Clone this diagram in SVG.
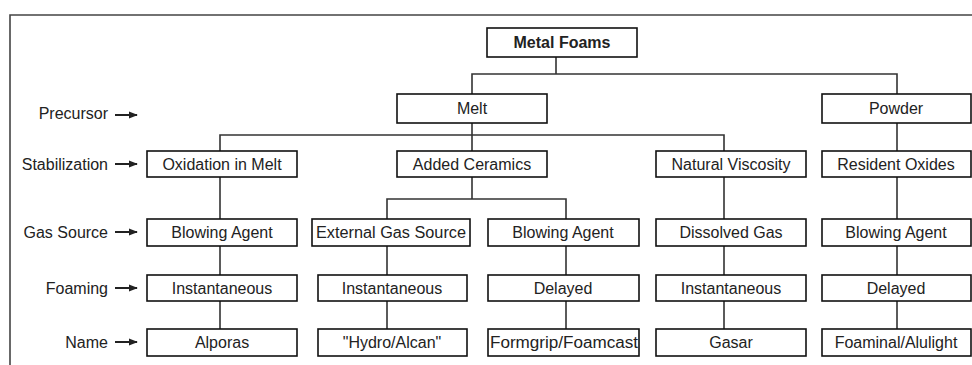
<svg xmlns="http://www.w3.org/2000/svg" width="972" height="365" viewBox="0 0 972 365">
<defs>
<marker id="ah" viewBox="0 0 10 10" refX="9" refY="5" markerWidth="4.5" markerHeight="4.5" orient="auto" markerUnits="strokeWidth">
<path d="M0,1 L10,5 L0,9 Z" fill="#222"/>
</marker>
<style>
.box{fill:#fff;stroke:#111;stroke-width:1.6}
.t{font-family:"Liberation Sans",Arial,sans-serif;font-size:16px;fill:#222;text-anchor:middle}
.b{font-weight:bold}
.lab{font-family:"Liberation Sans",Arial,sans-serif;font-size:16px;fill:#222;text-anchor:end}
.c{fill:none;stroke:#333;stroke-width:1.6}
.ar{stroke:#222;stroke-width:2;marker-end:url(#ah)}
.fr{fill:none;stroke:#444;stroke-width:1.6}
</style>
</defs>
<rect width="972" height="365" fill="#fff"/>
<path class="fr" d="M10,365 V15 H972"/>
<g id="connectors">
<path class="c" d="M556,57 V74 M472,94 V74 H897 V94"/>
<path class="c" d="M472,123 V135 M220,151 V135 H724 V151 M472,135 V151"/>
<path class="c" d="M897,123 V151"/>
<path class="c" d="M472,177 V199 M387,219 V199 H566 V219"/>
<path class="c" d="M220,177 V219 M724,177 V219 M897,177 V219"/>
<path class="c" d="M220,246 V275 M387,246 V275 M566,246 V275 M724,246 V275 M897,246 V275"/>
<path class="c" d="M220,301 V329 M387,301 V329 M566,301 V329 M724,301 V329 M897,301 V329"/>
</g>
<g id="labels">
<text class="lab" x="108" y="119">Precursor</text>
<line class="ar" x1="115" y1="115" x2="137" y2="115"/>
<text class="lab" x="108" y="170">Stabilization</text>
<line class="ar" x1="115" y1="164" x2="137" y2="164"/>
<text class="lab" x="108" y="238">Gas Source</text>
<line class="ar" x1="115" y1="232" x2="137" y2="232"/>
<text class="lab" x="108" y="294">Foaming</text>
<line class="ar" x1="115" y1="288" x2="137" y2="288"/>
<text class="lab" x="108" y="348">Name</text>
<line class="ar" x1="115" y1="342" x2="137" y2="342"/>
</g>
<g id="metal-foams"><rect class="box" x="487" y="28" width="150" height="29"/><text class="t b" x="562" y="48">Metal Foams</text></g>
<g id="melt"><rect class="box" x="397" y="94" width="150" height="29"/><text class="t" x="472" y="114">Melt</text></g>
<g id="powder"><rect class="box" x="822" y="94" width="149" height="29"/><text class="t" x="896" y="114">Powder</text></g>
<g id="oxidation-in-melt"><rect class="box" x="147" y="151" width="150" height="26"/><text class="t" x="222" y="170">Oxidation in Melt</text></g>
<g id="added-ceramics"><rect class="box" x="397" y="151" width="150" height="26"/><text class="t" x="472" y="170">Added Ceramics</text></g>
<g id="natural-viscosity"><rect class="box" x="656" y="151" width="150" height="26"/><text class="t" x="731" y="170">Natural Viscosity</text></g>
<g id="resident-oxides"><rect class="box" x="822" y="151" width="149" height="26"/><text class="t" x="896" y="170">Resident Oxides</text></g>
<g id="blowing-agent-1"><rect class="box" x="147" y="219" width="150" height="27"/><text class="t" x="222" y="238">Blowing Agent</text></g>
<g id="external-gas-source"><rect class="box" x="312" y="219" width="158" height="27"/><text class="t" x="391" y="238" textLength="150" lengthAdjust="spacingAndGlyphs">External Gas Source</text></g>
<g id="blowing-agent-2"><rect class="box" x="488" y="219" width="151" height="27"/><text class="t" x="563" y="238">Blowing Agent</text></g>
<g id="dissolved-gas"><rect class="box" x="656" y="219" width="150" height="27"/><text class="t" x="731" y="238">Dissolved Gas</text></g>
<g id="blowing-agent-3"><rect class="box" x="822" y="219" width="149" height="27"/><text class="t" x="896" y="238">Blowing Agent</text></g>
<g id="instantaneous-1"><rect class="box" x="147" y="275" width="150" height="26"/><text class="t" x="222" y="294">Instantaneous</text></g>
<g id="instantaneous-2"><rect class="box" x="318" y="275" width="149" height="26"/><text class="t" x="392" y="294">Instantaneous</text></g>
<g id="delayed-1"><rect class="box" x="488" y="275" width="151" height="26"/><text class="t" x="563" y="294">Delayed</text></g>
<g id="instantaneous-3"><rect class="box" x="656" y="275" width="150" height="26"/><text class="t" x="731" y="294">Instantaneous</text></g>
<g id="delayed-2"><rect class="box" x="822" y="275" width="149" height="26"/><text class="t" x="896" y="294">Delayed</text></g>
<g id="alporas"><rect class="box" x="147" y="329" width="150" height="27"/><text class="t" x="222" y="348">Alporas</text></g>
<g id="hydro-alcan"><rect class="box" x="318" y="329" width="149" height="27"/><text class="t" x="392" y="348">"Hydro/Alcan"</text></g>
<g id="formgrip-foamcast"><rect class="box" x="488" y="329" width="151" height="27"/><text class="t" x="564" y="348" textLength="148" lengthAdjust="spacingAndGlyphs">Formgrip/Foamcast</text></g>
<g id="gasar"><rect class="box" x="656" y="329" width="150" height="27"/><text class="t" x="731" y="348">Gasar</text></g>
<g id="foaminal-alulight"><rect class="box" x="822" y="329" width="149" height="27"/><text class="t" x="896" y="348">Foaminal/Alulight</text></g>
</svg>
